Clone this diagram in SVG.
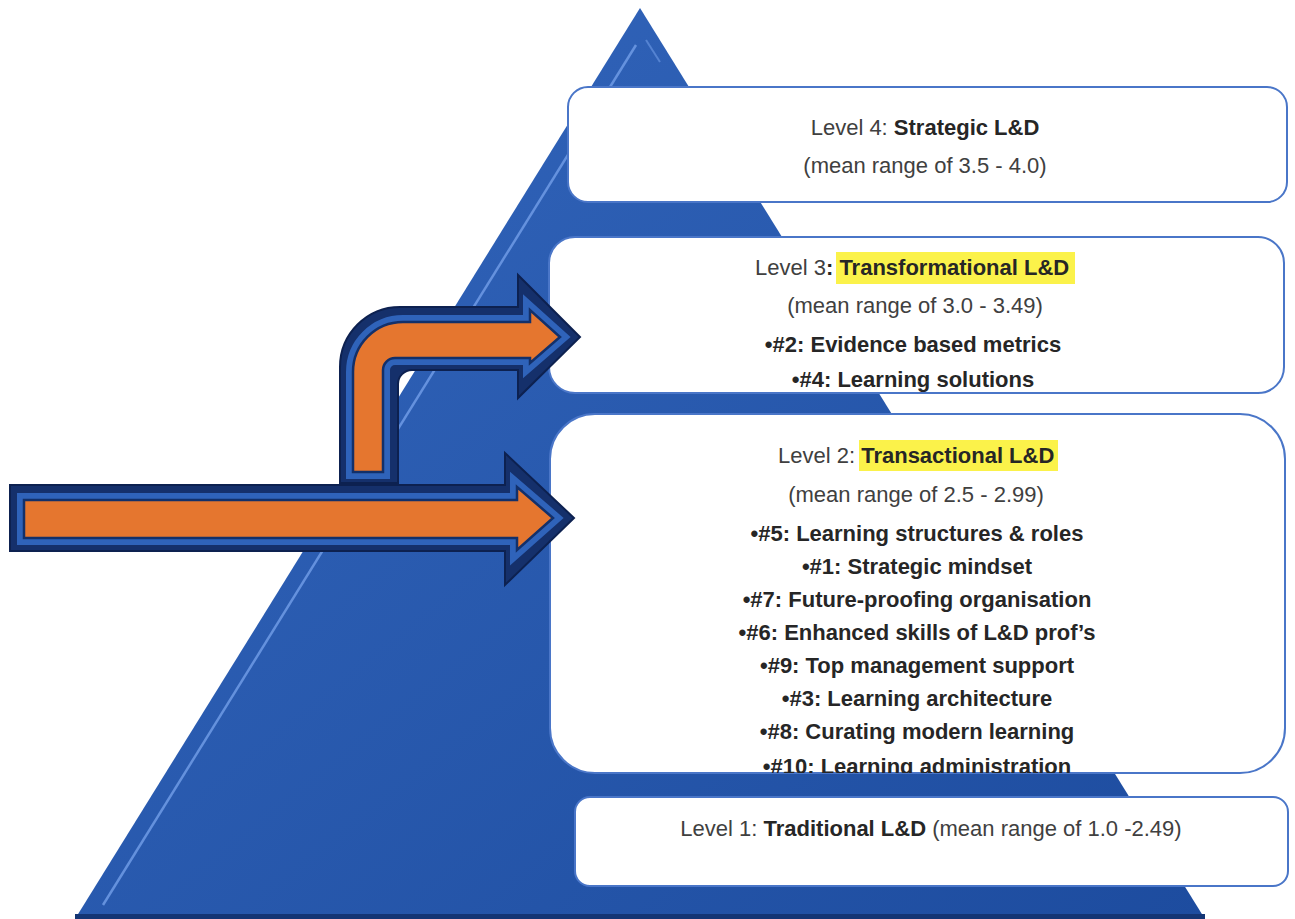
<svg xmlns="http://www.w3.org/2000/svg" width="1295" height="919" viewBox="0 0 1295 919">
<style>
.box{fill:#ffffff;stroke:#4a76c8;stroke-width:2}
.t{font-family:"Liberation Sans",Arial,sans-serif;font-size:22px;fill:#404040}
.b{font-weight:bold;fill:#262626}
.c{text-anchor:middle}
.hl{fill:#fbf24a}
.aout{fill:#15306b;stroke:#0d2150;stroke-width:2}
.aband{fill:none;stroke:#2f63ba;stroke-width:14;stroke-linejoin:miter}
.ain{fill:#e5762f;stroke:#13306a;stroke-width:2.5;stroke-linejoin:miter}
</style>
<defs>
<linearGradient id="tri" x1="0" y1="0" x2="1" y2="1">
<stop offset="0" stop-color="#3467bd"/>
<stop offset="1" stop-color="#1d4c9f"/>
</linearGradient>
<clipPath id="clip2"><rect x="550" y="414" width="735" height="359" rx="45"/></clipPath>
</defs>
<rect width="1295" height="919" fill="#ffffff"/>
<g id="pyramid">
<polygon points="640,8 1205,919 75,919" fill="url(#tri)"/>
<line x1="636" y1="45" x2="103" y2="905" stroke="#6f9be6" stroke-width="2.5" opacity="0.85"/>
<line x1="646" y1="40" x2="660" y2="62" stroke="#6f9be6" stroke-width="2" opacity="0.6"/>
<rect x="75" y="914" width="1130" height="5" fill="#143574"/>
</g>
<g id="level4">
<rect class="box" x="568" y="87" width="719" height="115" rx="20"/>
<text class="t c" x="925" y="135">Level 4: <tspan class="b">Strategic L&amp;D</tspan></text>
<text class="t c" x="925" y="173">(mean range of 3.5 - 4.0)</text>
</g>
<g id="level3">
<rect class="box" x="549" y="237" width="735" height="156" rx="26"/>
<rect class="hl" x="836" y="252" width="239" height="32"/>
<text class="t" x="755" y="275">Level 3<tspan class="b">: Transformational L&amp;D</tspan></text>
<text class="t c" x="915" y="313">(mean range of 3.0 - 3.49)</text>
<text class="t b c" x="913" y="352">•#2: Evidence based metrics</text>
<text class="t b c" x="913" y="387">•#4: Learning solutions</text>
</g>
<g id="level2">
<rect class="box" x="550" y="414" width="735" height="359" rx="45"/>
<rect class="hl" x="859" y="440" width="199" height="31"/>
<g clip-path="url(#clip2)">
<text class="t" x="778" y="463">Level 2: <tspan class="b">Transactional L&amp;D</tspan></text>
<text class="t c" x="916" y="502">(mean range of 2.5 - 2.99)</text>
<text class="t b c" x="917" y="541">•#5: Learning structures &amp; roles</text>
<text class="t b c" x="917" y="574">•#1: Strategic mindset</text>
<text class="t b c" x="917" y="607">•#7: Future-proofing organisation</text>
<text class="t b c" x="917" y="640">•#6: Enhanced skills of L&amp;D prof’s</text>
<text class="t b c" x="917" y="673">•#9: Top management support</text>
<text class="t b c" x="917" y="706">•#3: Learning architecture</text>
<text class="t b c" x="917" y="739">•#8: Curating modern learning</text>
<text class="t b c" x="917" y="774">•#10: Learning administration</text>
</g>
</g>
<g id="level1">
<rect class="box" x="575" y="797" width="713" height="89" rx="15"/>
<text class="t c" x="931" y="836">Level 1: <tspan class="b">Traditional L&amp;D</tspan> (mean range of 1.0 -2.49)</text>
</g>
<g id="connectors">
<g id="arrow-up">
<path class="aout" d="M 340 483 L 340 367 A 60 60 0 0 1 400 307 L 518 307 L 518 275 L 580 337 L 518 398 L 518 370 L 412 370 A 14 14 0 0 0 398 384 L 398 483 Z"/>
<path class="aband" d="M 353 472 L 353 372 A 50 50 0 0 1 403 322 L 530 322 L 530 310 L 560 337 L 530 363 L 530 358 L 395 358 A 12 12 0 0 0 383 370 L 383 472 Z" clip-path="none"/>
<path class="ain" d="M 353 472 L 353 372 A 50 50 0 0 1 403 322 L 530 322 L 530 310 L 560 337 L 530 363 L 530 358 L 395 358 A 12 12 0 0 0 383 370 L 383 472 Z"/>
</g>
<g id="arrow-right">
<path class="aout" d="M 10 485 L 505 485 L 505 453 L 574 518 L 505 585 L 505 551 L 10 551 Z"/>
<path class="aband" d="M 24 500 L 517 500 L 517 487 L 553 518 L 517 550 L 517 538 L 24 538 Z"/>
<path class="ain" d="M 24 500 L 517 500 L 517 487 L 553 518 L 517 550 L 517 538 L 24 538 Z"/>
</g>
</g>
</svg>
